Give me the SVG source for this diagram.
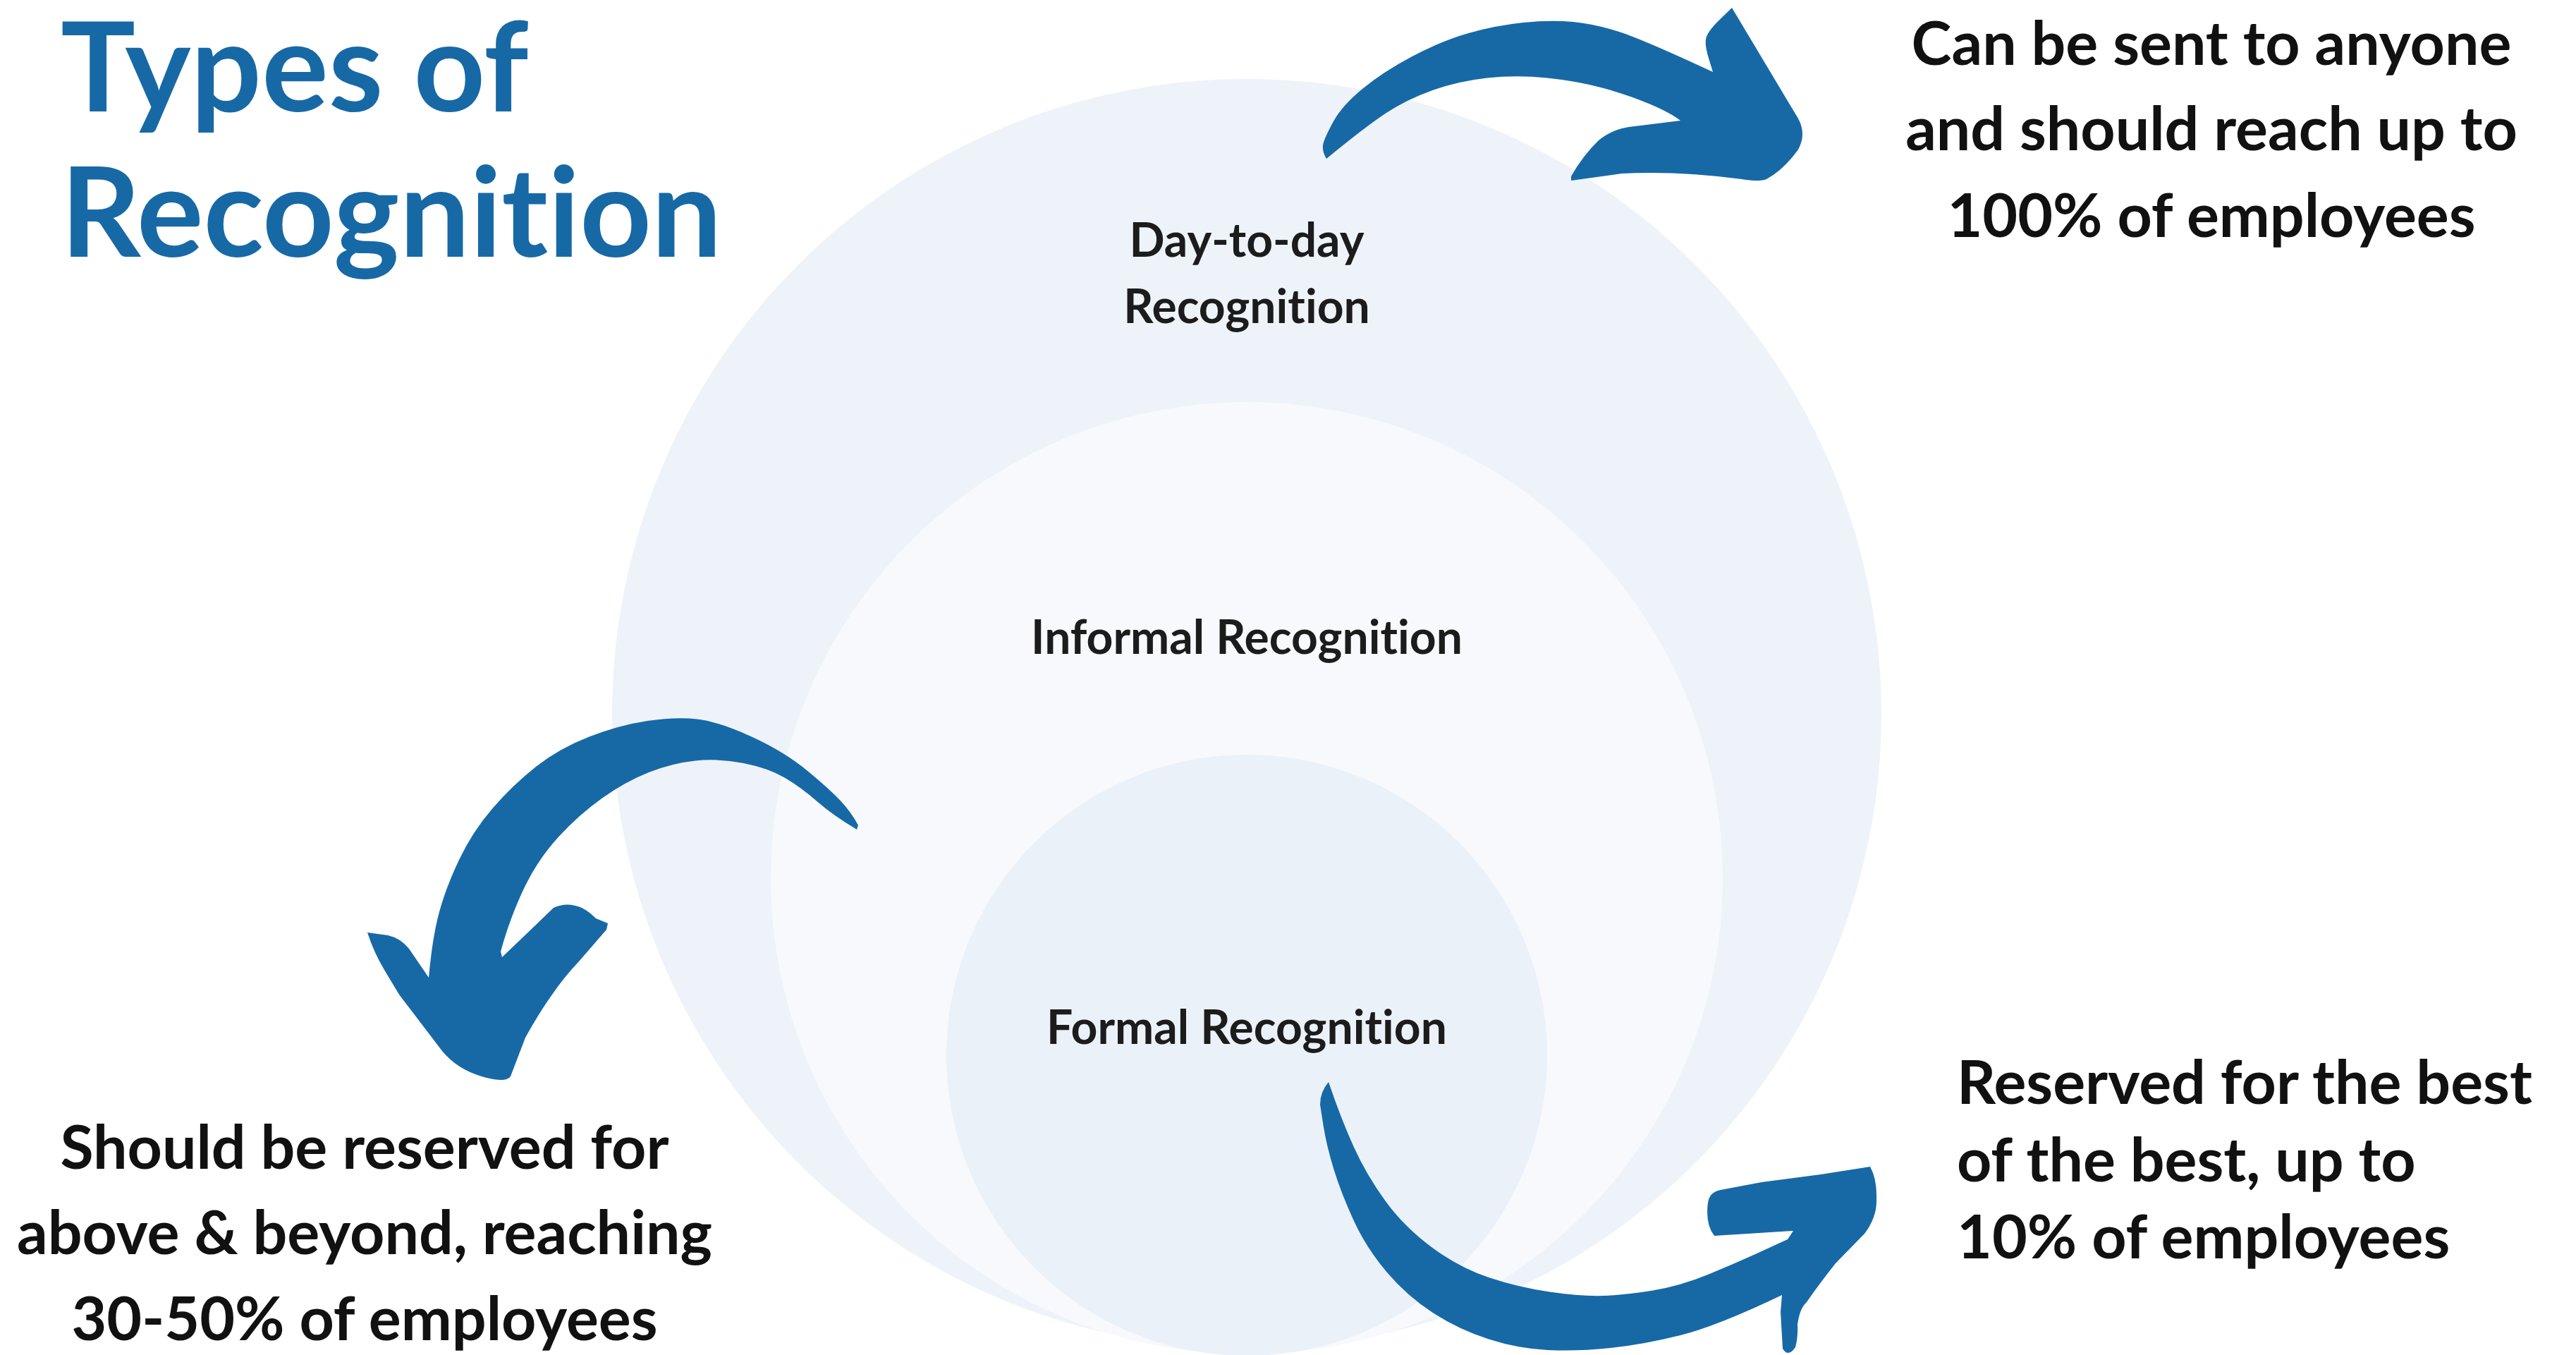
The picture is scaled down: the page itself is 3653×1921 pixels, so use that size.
<svg xmlns="http://www.w3.org/2000/svg" width="3653" height="1921" viewBox="0 0 3653 1921">
<style>
.t{font-family:Lato,"Open Sans","Liberation Sans",sans-serif;font-weight:700;font-variant-ligatures:none;font-feature-settings:"liga" 0,"clig" 0}
.title{fill:#1769a6;font-size:177px}
.lab{fill:#1c1c1c;font-size:66px;text-anchor:middle}
.note{fill:#111111;font-size:86px}
.arrow{fill:#1769a6}
</style>
<rect width="3653" height="1921" fill="#ffffff"/>
<g id="title">
<text class="t title" x="86" y="158">Types of</text>
<text class="t title" x="86" y="364">Recognition</text>
</g>
<g id="day-to-day">
<circle cx="1768" cy="1012" r="900" fill="#eef3fa"/>
<text class="t lab" x="1768" y="364">Day-to-day</text>
<text class="t lab" x="1768" y="458">Recognition</text>
</g>
<g id="informal">
<circle cx="1768" cy="1245" r="675" fill="#f7f9fd"/>
<text class="t lab" x="1768" y="927">Informal Recognition</text>
</g>
<g id="formal">
<circle cx="1768" cy="1496" r="426" fill="#ebf1f9"/>
<text class="t lab" x="1768" y="1480">Formal Recognition</text>
</g>
<g id="connectors">
<path class="arrow" d="M1881,225 Q1874,213 1876.5,203.5 Q1879,194 1891,172 Q1903,150 1932,126 Q1961,102 2002.5,80 Q2044,58 2082.5,47 Q2121,36 2160,32 Q2199,28 2230.5,31 Q2262,34 2296,45 Q2330,56 2429,102 L2423,82.5 Q2417,63 2419.5,53.5 Q2422,44 2439,27.5 L2456,11 L2550,168 Q2562,190 2550,212 Q2530,240 2505,254 Q2495,258 2470,254 Q2380,242 2300,246 L2228,256 L2228,250 Q2245,220 2267,199 Q2285,184 2310,180 L2383,171 Q2369,160 2339.5,147.5 Q2310,135 2274,125 Q2238,115 2194,110.5 Q2150,106 2109,110.5 Q2068,115 2031.5,128 Q1995,141 1966,160 Q1937,179 1881,225 Z"/>
<path class="arrow" d="M1215,1176 L1217,1170 Q1208,1153 1194,1137.5 Q1180,1122 1146.5,1094 Q1113,1066 1066,1044.5 Q1019,1023 988.5,1019.5 Q958,1016 918,1022 Q878,1028 835.5,1044.5 Q793,1061 760,1087 Q727,1113 698.5,1146 Q670,1179 651,1219 Q632,1259 622.5,1294.5 Q613,1330 608,1386 L580,1345 Q568,1330 550,1326 L521,1322 Q530,1350 545,1375 L566,1410 L627,1490 Q650,1518 690,1528 Q718,1535 724,1526 L745,1471 Q765,1435 783,1410 Q800,1385 821,1363 L860,1318 L862,1309 L845,1302 Q835,1292 825,1287 Q804,1278 785,1287 L712,1357 L710,1349 L714,1335 Q727,1292 745.5,1254.5 Q764,1217 792.5,1186 Q821,1155 854,1131.5 Q887,1108 920,1095 Q953,1082 986,1078.5 Q1019,1075 1054.5,1082 Q1090,1089 1113.5,1103 Q1137,1117 1158.5,1136 Q1180,1155 1215,1176 Z"/>
<path class="arrow" d="M1884,1534 Q1872,1548 1872,1566 L1876.5,1595 Q1881,1624 1891.5,1658 Q1902,1692 1920,1731 Q1938,1770 1967,1804 Q1996,1838 2032.5,1861.5 Q2069,1885 2111,1898.5 Q2153,1912 2195,1914 Q2237,1916 2284,1911 Q2331,1906 2383,1893 Q2435,1880 2527,1836 L2525,1860 L2528,1912 Q2536,1925 2546,1910 Q2550,1895 2549,1878 Q2552,1855 2562,1846 Q2580,1820 2603,1791 L2644,1749 Q2662,1725 2661,1700 Q2662,1672 2652,1654 L2582,1665 L2498,1676 L2440,1687 Q2424,1690 2422,1705 Q2418,1735 2431,1752 L2543,1745 L2535,1757 L2498,1774 Q2461,1791 2422,1807 Q2383,1823 2344,1829.5 Q2305,1836 2273.5,1837 Q2242,1838 2197.5,1831.5 Q2153,1825 2111,1811 Q2069,1797 2030,1768 Q1991,1739 1964.5,1702.5 Q1938,1666 1920,1626.5 Q1902,1587 1884,1534 Z"/>
</g>
<g id="note-day-to-day">
<text class="t note" text-anchor="middle" x="3136" y="92">Can be sent to anyone</text>
<text class="t note" text-anchor="middle" x="3136" y="213">and should reach up to</text>
<text class="t note" text-anchor="middle" x="3136" y="336">100% of employees</text>
</g>
<g id="note-informal">
<text class="t note" text-anchor="middle" x="517" y="1657">Should be reserved for</text>
<text class="t note" text-anchor="middle" x="517" y="1778">above &amp; beyond, reaching</text>
<text class="t note" text-anchor="middle" x="517" y="1900">30-50% of employees</text>
</g>
<g id="note-formal">
<text class="t note" x="2775" y="1565">Reserved for the best</text>
<text class="t note" x="2775" y="1675">of the best, up to</text>
<text class="t note" x="2775" y="1784">10% of employees</text>
</g>
</svg>
